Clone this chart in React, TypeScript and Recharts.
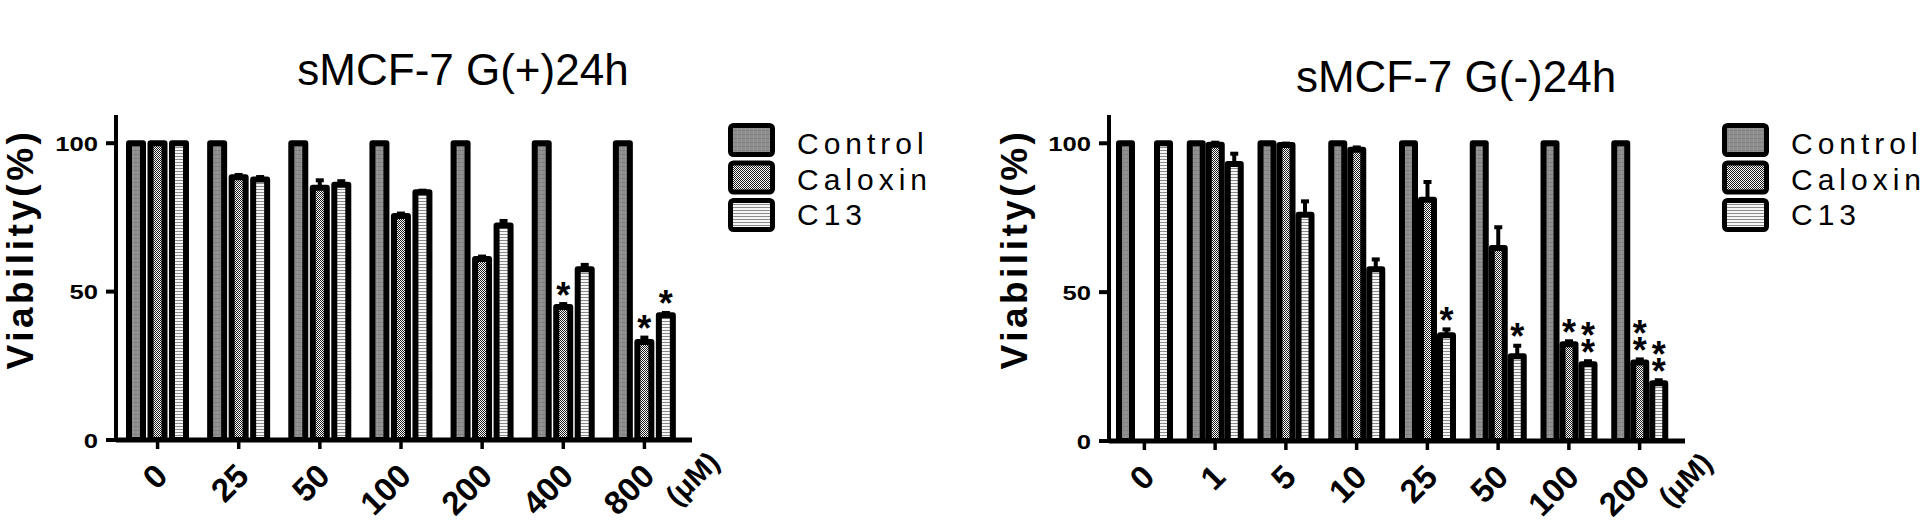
import React from 'react';
import { BarChart, Bar, XAxis, YAxis, ErrorBar, Rectangle } from 'recharts';

// sMCF-7 G(+) 24h
const gPlusDoses = ['0', '25', '50', '100', '200', '400', '800'];
const gPlusControl = [100, 100, 100, 100, 100, 100, 100];
const gPlusCaloxin = [100, 88.5, 85, 75.5, 61, 44.8, 33];
const gPlusCaloxinErr = [0, 0.8, 2.5, 0.8, 0.8, 1, 1.5];
const gPlusC13 = [100, 87.8, 86, 83.5, 72.3, 57.5, 42];
const gPlusC13Err = [0, 0.8, 1.2, 0.5, 1.5, 1.5, 0.8];
const gPlusCaloxinSig = ['', '', '', '', '', '*', '*'];
const gPlusC13Sig = ['', '', '', '', '', '', '*'];

// sMCF-7 G(-) 24h
const gMinusDoses = ['0', '1', '5', '10', '25', '50', '100', '200'];
const gMinusControl = [100, 100, 100, 100, 100, 100, 100, 100];
const gMinusCaloxin = [0, 99.5, 99.4, 97.8, 81, 64.8, 32.5, 26.4];
const gMinusCaloxinErr = [0, 0.7, 0.5, 0.8, 6, 7, 1, 1];
const gMinusC13 = [100, 93, 76, 57.7, 35.5, 28.5, 25.8, 19.4];
const gMinusC13Err = [0, 3.5, 4.5, 3.3, 2, 3.5, 1, 1];
const gMinusCaloxinSig = ['', '', '', '', '', '', '*', '**'];
const gMinusC13Sig = ['', '', '', '', '*', '*', '**', '**'];

const yTicks = [0, 50, 100];
const seriesNames = ['Control', 'Caloxin', 'C13'];

const FONT = '"Liberation Sans", Arial, Helvetica, sans-serif';

const buildRows = (doses, control, caloxin, caloxinErr, c13, c13Err, caloxinSig, c13Sig) =>
    doses.map((dose, i) => ({
        dose,
        control: control[i],
        caloxin: caloxin[i],
        caloxinErr: [0, caloxinErr[i]],
        caloxinErrVal: caloxinErr[i],
        caloxinSig: caloxinSig[i],
        c13: c13[i],
        c13Err: [0, c13Err[i]],
        c13ErrVal: c13Err[i],
        c13Sig: c13Sig[i],
    }));

const gPlusRows = buildRows(gPlusDoses, gPlusControl, gPlusCaloxin, gPlusCaloxinErr, gPlusC13, gPlusC13Err, gPlusCaloxinSig, gPlusC13Sig);
const gMinusRows = buildRows(gMinusDoses, gMinusControl, gMinusCaloxin, gMinusCaloxinErr, gMinusC13, gMinusC13Err, gMinusCaloxinSig, gMinusC13Sig);

// bar with asterisks stacked above its error bar
const starShape = (valKey, errKey, sigKey) => (props) => {
    const { x, y, width, height, payload } = props;
    const v = payload[valKey];
    const sig = payload[sigKey] || '';
    const perUnit = v > 0 ? height / v : 0;
    const cx = x + width / 2;
    const lowest = y - payload[errKey] * perUnit - 16;
    return (
        <g>
            <Rectangle {...props} />
            {sig.split('').map((s, i) => (
                <text key={i} x={cx} y={lowest - i * 17 + 19.5} textAnchor="middle"
                    fontFamily={FONT} fontWeight="bold" fontSize={36} fill="#000">
                    {s}
                </text>
            ))}
        </g>
    );
};

const YTick = ({ x, y, payload }) => (
    <text transform={`translate(${x - 6},${y + 7.5}) scale(1.22,1)`} textAnchor="end"
        fontFamily={FONT} fontWeight="bold" fontSize={21} fill="#000">
        {payload.value}
    </text>
);

const XTick = ({ x, y, payload }) => (
    <text x={x + 12} y={y + 27} transform={`rotate(-45, ${x + 12}, ${y + 27})`} textAnchor="end"
        fontFamily={FONT} fontWeight="bold" fontSize={33} fill="#000">
        {payload.value}
    </text>
);

const unitLabel = ({ viewBox }) => {
    const ax = viewBox.x + viewBox.width + 29;
    const ay = viewBox.y + 24;
    return (
        <text x={ax} y={ay} transform={`rotate(-45, ${ax}, ${ay})`} textAnchor="end"
            fontFamily={FONT} fontWeight="bold" fontSize={29} fill="#000">
            (μM)
        </text>
    );
};

const barStyle = { stroke: '#000', strokeWidth: 6, strokeLinejoin: 'round' as const };

const ViabilityChart = ({ rows, left, yWidth, marginRight, bottom, barSize, barGap, padding }) => (
    <div style={{ position: 'absolute', left, top: 0 }}>
        <BarChart width={960} height={522} data={rows} barSize={barSize} barGap={barGap}
            margin={{ top: 115, right: marginRight, bottom, left: 0 }}>
            <XAxis dataKey="dose" height={60} padding={padding} interval={0}
                axisLine={{ stroke: '#000', strokeWidth: 5 }}
                tickLine={{ stroke: '#000', strokeWidth: 3.5 }} tickSize={9}
                tick={<XTick />} label={{ content: unitLabel }} />
            <YAxis width={yWidth} domain={[0, 109.5]} ticks={yTicks} allowDataOverflow
                axisLine={{ stroke: '#000', strokeWidth: 4 }}
                tickLine={{ stroke: '#000', strokeWidth: 4 }} tickSize={10}
                tick={<YTick />} />
            <Bar dataKey="control" fill="url(#pCtrl)" {...barStyle} isAnimationActive={false} />
            <Bar dataKey="caloxin" fill="url(#pCal)" {...barStyle} isAnimationActive={false}
                shape={starShape('caloxin', 'caloxinErrVal', 'caloxinSig')}>
                <ErrorBar dataKey="caloxinErr" direction="y" width={4} strokeWidth={4} stroke="#000" />
            </Bar>
            <Bar dataKey="c13" fill="url(#pC13)" {...barStyle} isAnimationActive={false}
                shape={starShape('c13', 'c13ErrVal', 'c13Sig')}>
                <ErrorBar dataKey="c13Err" direction="y" width={4} strokeWidth={4} stroke="#000" />
            </Bar>
        </BarChart>
    </div>
);

const patternIds = ['pCtrl', 'pCal', 'pC13'];

const LegendBlock = ({ x }) => (
    <g>
        {seriesNames.map((name, i) => (
            <g key={name}>
                <rect x={x + 2.5} y={125.5 + i * 37.5} width={42} height={29} rx={3}
                    fill={`url(#${patternIds[i]})`} stroke="#000" strokeWidth={5} />
                <text x={x + 69} y={154 + i * 35.5} fontFamily={FONT} fontSize={30}
                    letterSpacing={5} fill="#000">
                    {name}
                </text>
            </g>
        ))}
    </g>
);

const YTitle = ({ x }) => (
    <text x={x} y={249} transform={`rotate(-90, ${x}, ${249})`} textAnchor="middle"
        fontFamily={FONT} fontWeight="bold" fontSize={37} letterSpacing={3.5} fill="#000">
        Viability(%)
    </text>
);

const App = () => (
    <div style={{ position: 'absolute', left: 0, top: 0, width: 1920, height: 522, background: '#fff' }}>
        <ViabilityChart rows={gPlusRows} left={0} yWidth={116} marginRight={268} bottom={22}
            barSize={14} barGap={7.5} padding={{ left: 1, right: 7 }} />
        <ViabilityChart rows={gMinusRows} left={960} yWidth={149} marginRight={235} bottom={21}
            barSize={13} barGap={6} padding={{ left: 0, right: 10 }} />
        <svg width={1920} height={522} style={{ position: 'absolute', left: 0, top: 0, pointerEvents: 'none' }}>
            <defs>
                <pattern id="pCtrl" width="4" height="4" patternUnits="userSpaceOnUse">
                    <rect width="4" height="4" fill="#8d8d8d" />
                    <rect x="1" width="1" height="4" fill="#9b9b9b" />
                    <rect y="2" width="4" height="1" fill="#818181" />
                </pattern>
                <pattern id="pCal" width="2" height="2" patternUnits="userSpaceOnUse">
                    <rect width="2" height="2" fill="#ffffff" />
                    <rect width="1" height="1" fill="#1a1a1a" />
                    <rect x="1" y="1" width="1" height="1" fill="#1a1a1a" />
                </pattern>
                <pattern id="pC13" width="4" height="3" patternUnits="userSpaceOnUse">
                    <rect width="4" height="3" fill="#f6f6f6" />
                    <rect width="4" height="1" fill="#8a8a8a" />
                </pattern>
            </defs>
            <text x={463} y={85} textAnchor="middle" fontFamily={FONT} fontSize={44} fill="#000">
                sMCF-7 G(+)24h
            </text>
            <text x={1456} y={92} textAnchor="middle" fontFamily={FONT} fontSize={44} fill="#000">
                sMCF-7 G(-)24h
            </text>
            <YTitle x={33} />
            <YTitle x={1027} />
            <LegendBlock x={728} />
            <LegendBlock x={1722} />
        </svg>
    </div>
);

export default App;
